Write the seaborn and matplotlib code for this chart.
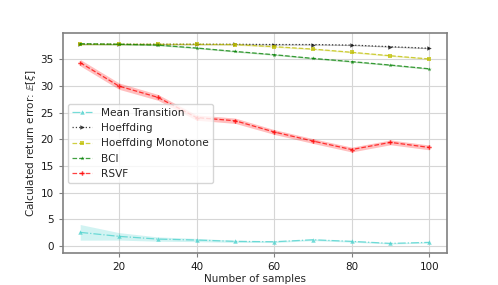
import numpy as np
import matplotlib
matplotlib.use("Agg")
import matplotlib.pyplot as plt
import seaborn as sns

# sample counts on the x axis
samples = [10, 20, 30, 40, 50, 60, 70, 80, 90, 100]

# mean return error of each method
mean_transition = [2.57, 1.82, 1.31, 1.13, 0.88, 0.81, 1.18, 0.88, 0.50, 0.69]
hoeffding = [37.85, 37.85, 37.85, 37.85, 37.85, 37.8, 37.8, 37.7, 37.4, 37.1]
hoeffding_mono = [37.85, 37.85, 37.85, 37.85, 37.8, 37.4, 36.95, 36.35, 35.7, 35.1]
bci = [37.95, 37.85, 37.7, 37.15, 36.5, 35.9, 35.2, 34.6, 33.95, 33.25]
rsvf = [34.4, 30.0, 27.9, 24.1, 23.5, 21.4, 19.7, 18.1, 19.45, 18.5]

# half width of the shaded bands
mean_transition_err = [1.47, 0.7, 0.4, 0.3, 0.2, 0.15, 0.15, 0.15, 0.12, 0.12]
hoeffding_err = [0.1] * 10
hoeffding_mono_err = [0.12] * 10
bci_err = [0.12] * 10
rsvf_err = [0.6, 0.6, 0.55, 0.5, 0.5, 0.45, 0.45, 0.45, 0.45, 0.45]

sns.set_style("whitegrid", {"axes.edgecolor": "0.5", "grid.color": "0.84",
                            "xtick.bottom": True, "ytick.left": True})
plt.rcParams["font.family"] = ["DejaVu Sans"]
plt.rcParams["font.size"] = 7.5
plt.rcParams["xtick.color"] = "0.5"
plt.rcParams["ytick.color"] = "0.5"
plt.rcParams["xtick.labelcolor"] = "0.1"
plt.rcParams["ytick.labelcolor"] = "0.1"

fig, ax = plt.subplots(figsize=(4.98, 2.85), dpi=100)
fig.subplots_adjust(left=0.126, right=0.897, top=0.883, bottom=0.111)

series = [
    ("Mean Transition", mean_transition, mean_transition_err, "mediumturquoise", "-.", "^"),
    ("Hoeffding", hoeffding, hoeffding_err, "k", ":", ">"),
    ("Hoeffding Monotone", hoeffding_mono, hoeffding_mono_err, "y", "--", "s"),
    ("BCI", bci, bci_err, "g", "--", "*"),
    ("RSVF", rsvf, rsvf_err, "r", "--", "P"),
]

x = np.array(samples)
for name, vals, err, col, ls, mk in series:
    vals = np.array(vals)
    err = np.array(err)
    ax.fill_between(x, vals - err, vals + err, color=col, alpha=0.25, linewidth=0)
    sns.lineplot(x=x, y=vals, ax=ax, color=col, linestyle=ls, marker=mk,
                 markersize=3.2, markeredgewidth=0, linewidth=0.9, alpha=0.75,
                 label=name)

ax.set_xlim(5.5, 104.5)
ax.set_ylim(-1.37, 39.9)
ax.set_xticks([20, 40, 60, 80, 100])
ax.set_yticks([0, 5, 10, 15, 20, 25, 30, 35])
ax.tick_params(labelsize=7.5, length=3, width=0.8)
for sp in ax.spines.values():
    sp.set_linewidth(1.2)
ax.set_xlabel("Number of samples", fontsize=7.5, labelpad=1)
ax.set_ylabel(r"Calculated return error: $\mathbb{E}[\xi]$", fontsize=7.5, labelpad=2)
ax.legend(loc="center left", fontsize=7.6, frameon=True, framealpha=0.8,
          handlelength=1.9)

plt.savefig("out.png", dpi=100)
